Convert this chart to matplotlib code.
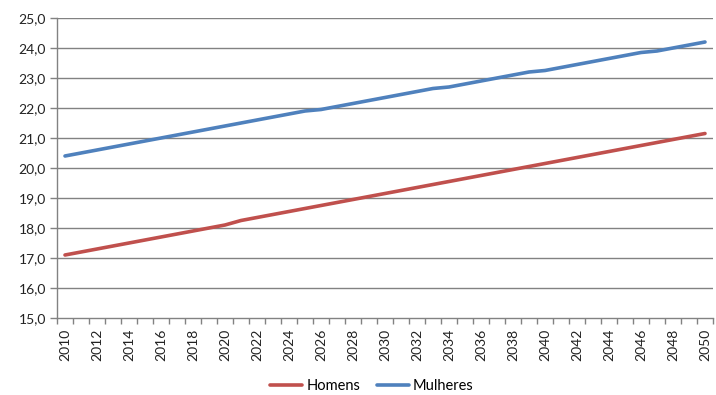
import matplotlib
matplotlib.use("Agg")
import matplotlib.pyplot as plt
import numpy as np

years = list(range(2010, 2051))
homens = [17.1, 17.2, 17.3, 17.4, 17.5, 17.6, 17.7, 17.8, 17.9, 18.0,
          18.1, 18.25, 18.35, 18.45, 18.55, 18.65, 18.75, 18.85, 18.95, 19.05,
          19.15, 19.25, 19.35, 19.45, 19.55, 19.65, 19.75, 19.85, 19.95, 20.05,
          20.15, 20.25, 20.35, 20.45, 20.55, 20.65, 20.75, 20.85, 20.95, 21.05,
          21.15]
mulheres = [20.4, 20.5, 20.6, 20.7, 20.8, 20.9, 21.0, 21.1, 21.2, 21.3,
            21.4, 21.5, 21.6, 21.7, 21.8, 21.9, 21.95, 22.05, 22.15, 22.25,
            22.35, 22.45, 22.55, 22.65, 22.7, 22.8, 22.9, 23.0, 23.1, 23.2,
            23.25, 23.35, 23.45, 23.55, 23.65, 23.75, 23.85, 23.9, 24.0, 24.1,
            24.2]
y_ticks = [15, 16, 17, 18, 19, 20, 21, 22, 23, 24, 25]

plt.rcParams['font.family'] = ['Lato', 'DejaVu Sans']

fig = plt.figure(figsize=(7.16, 3.95), dpi=100)
ax = fig.add_axes([57 / 716, (395 - 318) / 395, (713 - 57) / 716, 300 / 395])

x = np.arange(len(years))
grid_c = '#828282'

for yv in y_ticks[1:]:
    ax.axhline(yv, color=grid_c, lw=1.0, zorder=1)

ax.plot(x, homens, color='#C0504D', lw=2.6, label='Homens', zorder=3,
        solid_capstyle='round')
ax.plot(x, mulheres, color='#4F81BD', lw=2.6, label='Mulheres', zorder=3,
        solid_capstyle='round')

ax.set_xlim(-0.5, len(years) - 0.5)
ax.set_ylim(15, 25)

ax.set_yticks(y_ticks)
ax.set_yticklabels([f"{v:.1f}".replace('.', ',') for v in y_ticks],
                   fontsize=10, color='#222222')
ax.tick_params(axis='y', length=5, width=1, color=grid_c, pad=3)

label_idx = x[::2]
ax.set_xticks(label_idx)
ax.set_xticklabels([str(years[i]) for i in label_idx], rotation=90,
                   fontsize=10, color='#222222')
ax.set_xticks(np.arange(-0.5, len(years), 1.0), minor=True)
ax.tick_params(axis='x', which='major', length=0, pad=8)
ax.tick_params(axis='x', which='minor', length=4, width=1, color=grid_c)

for side in ('top', 'right'):
    ax.spines[side].set_visible(False)
for side in ('left', 'bottom'):
    ax.spines[side].set_color(grid_c)
    ax.spines[side].set_linewidth(1.0)

fig.legend(loc='center', bbox_to_anchor=(372 / 716, 1 - 386 / 395), ncol=2,
           frameon=False, fontsize=10.5, handlelength=2.2, columnspacing=1.1,
           handletextpad=0.3, borderpad=0, borderaxespad=0)

fig.savefig('out.png', dpi=100, facecolor='white')
